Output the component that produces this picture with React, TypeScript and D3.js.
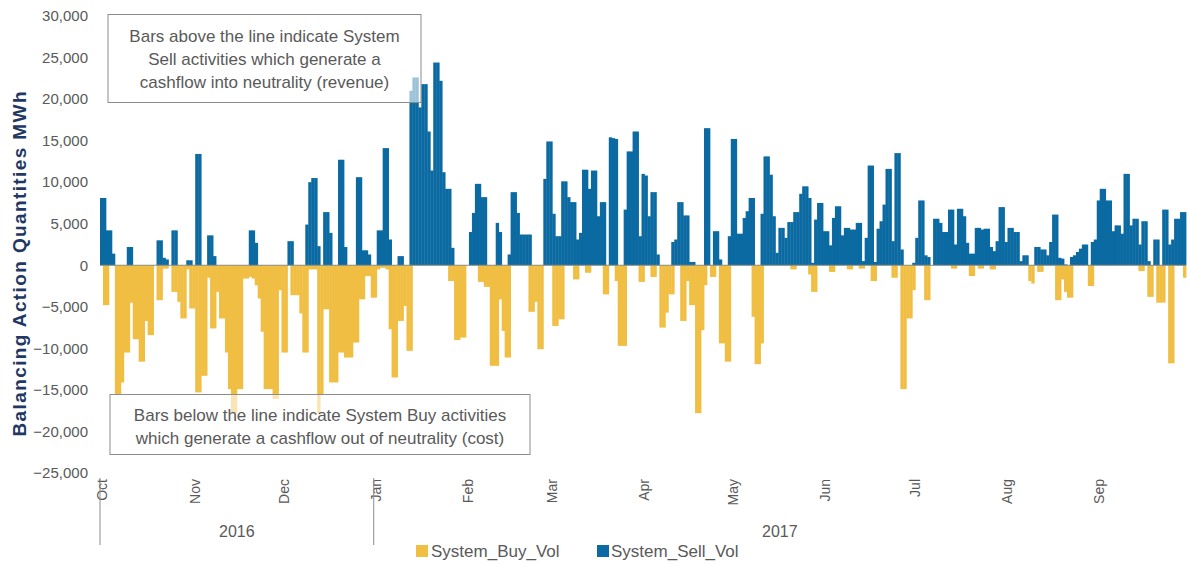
import React from "react";
import * as d3 from "d3";

const W = 1190;
const H = 567;
const font = "'Liberation Sans', Arial, sans-serif";
const grey = "#595959";
const buyColor = "#F0BE42";
const sellColor = "#0A6AA1";

// one category per day, 1 Oct 2016 .. 30 Sep 2017
const days = d3.timeDay.range(new Date(2016, 9, 1), new Date(2017, 9, 1));
const months = d3.timeMonth.range(new Date(2016, 9, 1), new Date(2017, 9, 1));
const monthLabels = ["Oct", "Nov", "Dec", "Jan", "Feb", "Mar", "Apr", "May", "Jun", "Jul", "Aug", "Sep"];
const yearLabels = ["2016", "2017"];
const yearStarts = [new Date(2016, 9, 1), new Date(2017, 0, 1)];
const yearEnds = [new Date(2017, 0, 1), new Date(2017, 9, 1)];
const yTicks = [-25000, -20000, -15000, -10000, -5000, 0, 5000, 10000, 15000, 20000, 25000, 30000];

// System_Sell_Vol, thousand MWh per day (Oct .. Sep)
const sellK = [
  8.1, 8.1, 4.2, 4.2, 1.4, 0, 0, 0, 0, 2.2, 2.2, 0, 0, 0, 0, 0, 0, 0, 0, 3.0, 3.0, 0.9, 0.7, 0, 4.2, 4.2, 0, 0, 0, 0.6, 0.6,
  0, 13.4, 13.4, 0, 0, 3.6, 3.6, 1.1, 0, 0, 0, 0, 0, 0, 0, 0, 0, 0, 0, 4.2, 4.2, 2.7, 0, 0, 0, 0, 0, 0, 0, 0,
  0, 0, 2.9, 2.9, 0, 0, 0, 0, 4.9, 10.0, 10.5, 10.5, 2.3, 0, 6.4, 6.4, 3.9, 0, 0, 12.7, 12.7, 2.2, 0, 0, 0, 10.6, 10.6, 1.8, 1.8, 1.3, 0,
  0, 4.2, 4.2, 14.1, 14.1, 3.1, 0, 0, 1.1, 1.1, 0, 0, 21.0, 22.6, 22.6, 19.0, 21.8, 21.8, 16.1, 11.4, 24.4, 24.4, 22.2, 11.2, 9.2, 9.2, 2.1, 0, 0, 0, 0,
  0, 4.0, 6.3, 9.8, 9.8, 8.2, 8.2, 0, 0, 0, 5.1, 4.0, 0, 0, 1.3, 8.8, 8.8, 6.3, 3.7, 3.7, 3.7, 3.7, 0, 0, 0, 0, 10.4, 14.9,
  14.9, 6.2, 3.5, 3.5, 10.1, 10.1, 8.2, 7.6, 7.6, 3.1, 3.9, 11.5, 11.5, 9.2, 11.4, 11.4, 5.9, 7.6, 7.6, 0, 15.4, 15.3, 15.2, 0, 0, 6.7, 13.7, 13.7, 16.1, 16.1, 3.5,
  11.0, 10.8, 5.9, 8.8, 8.8, 1.3, 0, 0, 0, 0, 2.8, 3.1, 7.6, 7.6, 6.0, 6.0, 0.4, 0.4, 0, 0, 0, 16.5, 16.5, 0, 4.1, 4.1, 0.7, 0, 0, 3.5,
  15.2, 15.2, 3.8, 3.8, 5.7, 6.5, 8.1, 8.1, 0, 0, 6.2, 13.1, 13.1, 10.9, 5.9, 1.5, 4.5, 4.5, 3.3, 5.2, 5.2, 6.4, 6.4, 8.6, 9.5, 9.5, 8.1, 0.3, 5.5, 7.5, 7.5,
  4.1, 4.1, 2.4, 5.7, 7.1, 7.1, 3.6, 4.5, 4.5, 4.3, 4.3, 5.1, 5.1, 0.5, 3.3, 12.0, 12.0, 0.4, 4.4, 5.3, 7.3, 11.6, 11.6, 2.9, 13.5, 13.5, 1.9, 0, 0, 0,
  0.3, 3.3, 7.8, 7.8, 1.2, 1.0, 0, 5.6, 5.6, 5.1, 4.0, 4.0, 6.7, 6.7, 2.5, 6.8, 6.8, 5.9, 2.7, 1.4, 1.4, 4.5, 4.5, 4.3, 4.4, 4.4, 2.2, 1.7, 2.9, 7.0, 7.0,
  2.8, 4.5, 4.5, 4.0, 4.0, 0.5, 1.2, 1.2, 0, 0, 2.2, 2.2, 1.9, 1.9, 1.2, 2.8, 6.1, 6.1, 0.9, 0.8, 0.1, 0, 1.0, 1.2, 1.6, 2.0, 2.5, 2.5, 0, 2.8, 3.1,
  7.8, 9.2, 9.2, 7.8, 7.8, 4.1, 4.8, 4.8, 3.8, 11.0, 11.0, 4.8, 5.6, 5.6, 2.5, 5.3, 5.3, 0.5, 0, 3.1, 3.1, 0, 6.7, 6.7, 2.5, 3.1, 5.6, 5.6, 6.4, 6.4,
];

// System_Buy_Vol, thousand MWh per day (Oct .. Sep)
const buyK = [
  0, -4.8, -4.8, 0, 0, -15.5, -15.5, -14.1, -10.5, -10.5, -4.5, -8.9, -8.9, -11.6, -11.6, -6.7, -8.4, -8.4, 0, -4.2, -4.2, -0.4, -0.4, 0, -3.2, -3.2, -4.4, -6.4, -6.4, -0.5, -5.2,
  -5.2, -15.3, -15.3, -13.3, -13.3, -1.5, -7.6, -7.6, -3.2, -6.4, -6.4, -10.5, -14.9, -17.8, -17.8, -14.9, -14.9, -1.6, -1.6, -1.4, -1.6, -2.4, -4.0, -8.0, -14.9, -14.9, -14.9, -16.1, -16.1, -3.0,
  -10.5, -10.5, 0, -3.6, -3.6, -3.6, -5.8, -10.5, -10.5, -0.5, -0.5, -0.5, -17.8, -15.5, -5.3, -5.3, -14.1, -14.1, -14.1, -10.5, -10.5, -11.1, -11.1, -11.1, -9.3, -9.3, -4.1, -4.1, -1.3, -1.3, -3.9,
  -3.9, -0.5, -0.3, -0.3, -0.5, -7.7, -13.5, -13.5, -6.7, -6.7, -4.9, -10.3, -10.3, 0, 0, 0, 0, 0, 0, 0, 0, 0, 0, 0, 0, -1.9, -1.9, -9.0, -9.0, -8.7, -8.7,
  0, 0, 0, 0, -2.0, -2.0, -2.6, -2.6, -12.1, -12.1, -12.1, -4.1, -7.9, -11.1, -11.1, 0, 0, 0, 0, 0, 0, -5.6, -5.6, -4.4, -10.1, -10.1, 0, 0,
  0, -7.3, -7.3, -6.5, -6.5, 0, 0, 0, -1.7, -1.7, 0, 0, -0.9, -0.9, 0, 0, 0, 0, -3.5, -3.5, 0, 0, -1.9, -9.7, -9.7, -9.7, 0, 0, 0, 0, -2.0,
  -2.0, 0, 0, -1.4, -1.4, 0, -7.5, -7.5, -5.7, -3.5, -3.5, 0, 0, -6.7, -6.7, -1.9, -4.8, -4.8, -17.8, -17.8, -7.8, -2.4, 0, -1.4, -1.4, 0, -9.4, -9.4, -11.6, -11.6,
  0, 0, 0, 0, 0, 0, 0, -6.2, -11.9, -11.9, -9.4, 0, 0, 0, 0, 0, 0, 0, 0, 0, -0.5, -0.5, 0, 0, 0, 0, -1.1, -3.2, -3.2, 0, 0,
  0, 0, -0.8, -0.8, 0, 0, 0, 0, -0.5, -0.5, 0, 0, -0.4, -0.4, 0, 0, -1.9, -1.9, 0, 0, 0, 0, 0, -1.5, -1.5, 0, -14.9, -14.9, -6.4, -6.4,
  -3.0, 0, 0, 0, -4.2, -4.2, 0, 0, 0, 0, 0, 0, 0, -0.4, -0.4, 0, 0, 0, 0, -1.3, -1.3, 0, -0.4, -0.4, 0, 0, -0.5, -0.5, 0, 0, 0,
  0, 0, 0, 0, 0, 0, 0, 0, -1.9, -2.2, 0, -0.8, -0.8, 0, 0, 0, 0, -4.2, -4.2, -1.7, -3.2, -3.9, -3.9, 0, 0, 0, 0, 0, -2.5, -2.5, 0,
  0, 0, 0, 0, 0, 0, 0, 0, 0, 0, 0, 0, 0, 0, -0.7, -0.7, 0, -3.8, -3.8, 0, -4.5, -4.5, -4.5, 0, -11.8, -11.8, 0, 0, 0, -1.5,
];

const topNote = ["Bars above the line indicate System", "Sell activities which generate a", "cashflow into neutrality (revenue)"];
const bottomNote = ["Bars below the line indicate System Buy activities", "which generate a cashflow out of neutrality (cost)"];

export default function App() {
  const x = d3.scaleBand<number>().domain(days.map((d) => +d)).range([100, 1186]).padding(0);
  const y = d3.scaleLinear().domain([-25000, 30000]).range([473, 16]);
  const bw = x.bandwidth();
  const y0 = y(0);
  const fmt = d3.format(",");

  return (
    <svg width={W} height={H} style={{ position: "absolute", left: 0, top: 0, background: "#fff" }} fontFamily={font}>
      {/* y axis title */}
      <text transform={`translate(19,264) rotate(-90)`} textAnchor="middle" dy="0.35em"
        fontSize={19} fontWeight="bold" fill="#1F3864" textLength={345} lengthAdjust="spacing">
        Balancing Action Quantities MWh
      </text>

      {/* y tick labels */}
      {yTicks.map((t) => (
        <text key={t} x={88} y={y(t)} dy="0.35em" textAnchor="end" fontSize={15} fill={grey}>{fmt(t)}</text>
      ))}

      {/* bars */}
      <g>
        {days.map((d, i) => buyK[i] < 0 ? (
          <rect key={"b" + i} x={x(+d)} y={y0} width={bw + 0.4} height={y(buyK[i] * 1000) - y0} fill={buyColor} />
        ) : null)}
        {days.map((d, i) => sellK[i] > 0 ? (
          <rect key={"s" + i} x={x(+d)} y={y(sellK[i] * 1000)} width={bw + 0.4} height={y0 - y(sellK[i] * 1000)} fill={sellColor} />
        ) : null)}
      </g>
      <line x1={100} x2={1186} y1={y0} y2={y0} stroke="#8a8a80" strokeWidth={1.2} />

      {/* month labels */}
      {months.map((m, i) => (
        <text key={i} transform={`translate(${(x(+m) ?? 0) + bw / 2 + 1},479) rotate(-90)`} textAnchor="end" dy="0.35em"
          fontSize={14} fill={grey}>{monthLabels[i]}</text>
      ))}
      {/* year separators and labels */}
      {yearStarts.map((s, i) => {
        const a = x(+s) ?? 0;
        const last = d3.timeDay.offset(yearEnds[i], -1);
        const b = (x(+last) ?? 0) + bw;
        return (
          <g key={i}>
            <line x1={a} x2={a} y1={478} y2={545} stroke="#8c8c8c" strokeWidth={1} />
            <text x={(a + b) / 2} y={537} textAnchor="middle" fontSize={16} fill={grey}>{yearLabels[i]}</text>
          </g>
        );
      })}

      {/* annotation boxes */}
      <rect x={108} y={14.5} width={313} height={88} fill="#fff" fillOpacity={0.6} stroke="#8c8c8c" strokeWidth={1} />
      {topNote.map((t, i) => (
        <text key={i} x={264.5} y={42 + i * 23} textAnchor="middle" fontSize={17} fill={grey}>{t}</text>
      ))}
      <rect x={110} y={394.5} width={420} height={60} fill="#fff" fillOpacity={0.6} stroke="#8c8c8c" strokeWidth={1} />
      {bottomNote.map((t, i) => (
        <text key={i} x={320} y={421 + i * 23} textAnchor="middle" fontSize={17} fill={grey}>{t}</text>
      ))}

      {/* legend */}
      <rect x={416} y={545} width={12} height={12} fill={buyColor} />
      <text x={431} y={557} fontSize={17} fill={grey}>System_Buy_Vol</text>
      <rect x={597} y={545} width={12} height={12} fill={sellColor} />
      <text x={611} y={557} fontSize={17} fill={grey}>System_Sell_Vol</text>
    </svg>
  );
}
